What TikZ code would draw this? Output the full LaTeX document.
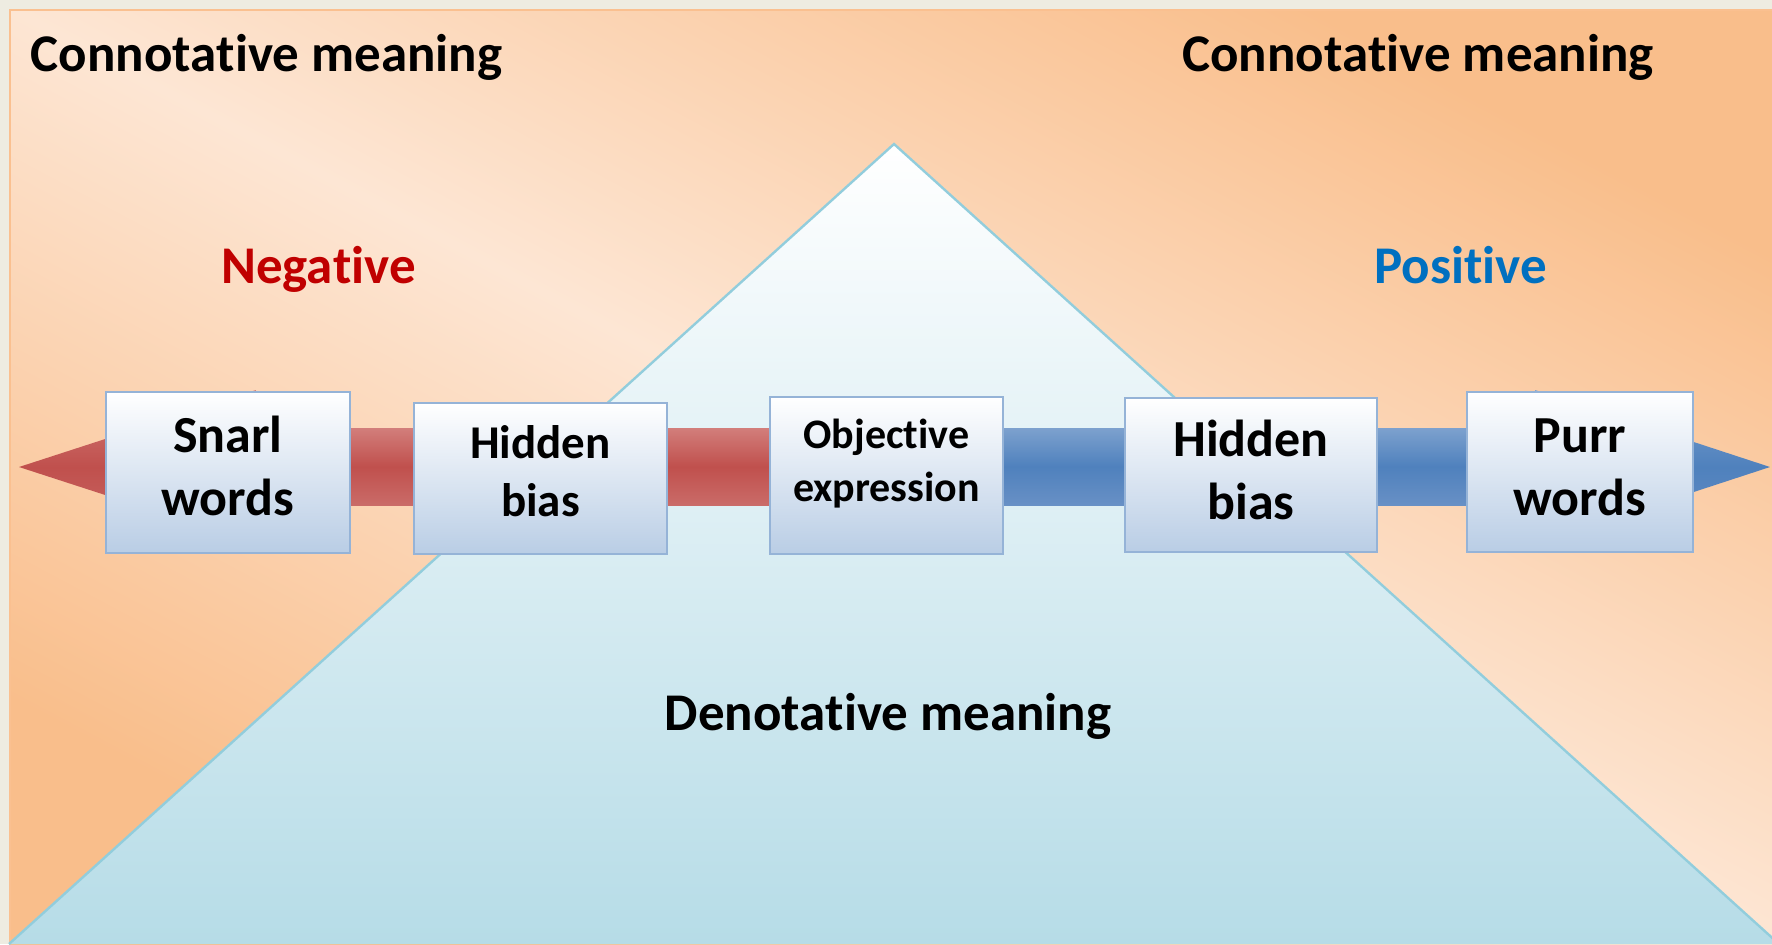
\documentclass[tikz,border=0pt]{standalone}
\usepackage{fontspec}
\setmainfont{Carlito}[RawFeature={-liga;-clig;-calt;-dlig}]
\definecolor{outerbg}{HTML}{EEECE1}
\definecolor{frameline}{HTML}{FAC090}
\definecolor{peachlight}{HTML}{FDE6D4}
\definecolor{peachdark}{HTML}{F9BE8B}
\definecolor{tribottom}{HTML}{B6DCE7}
\definecolor{triline}{HTML}{92CDDC}
\definecolor{redmain}{HTML}{C0504D}
\definecolor{redtop}{HTML}{D27E7B}
\definecolor{redbot}{HTML}{CA6B68}
\definecolor{bluemain}{HTML}{4F81BD}
\definecolor{bluetop}{HTML}{7DA1CE}
\definecolor{bluebot}{HTML}{6890C5}
\definecolor{boxbottom}{HTML}{B9CDE5}
\definecolor{boxline}{HTML}{95B3D7}
\definecolor{negred}{HTML}{C00000}
\definecolor{posblue}{HTML}{0070C0}
\newcommand{\twolines}[4]{\fontsize{#1}{#2}\selectfont\begin{tabular}[t]{@{}c@{}}#3\\#4\end{tabular}}
\begin{document}
\begin{tikzpicture}[x=0.5pt,y=-0.5pt,
  wordbox/.style={draw=boxline, line width=1.2pt, top color=white, bottom color=boxbottom, inner sep=0pt, outer sep=0pt},
  boxtext/.style={anchor=base, inner sep=0pt, font=\bfseries},
  heading/.style={anchor=base, inner sep=0pt, font=\bfseries\fontsize{26.5}{31}\selectfont},
  sidelabel/.style={anchor=base, inner sep=0pt, font=\bfseries\fontsize{26.5}{31}\selectfont},
  redshade/.style={top color=redtop, bottom color=redbot, middle color=redmain},
  blueshade/.style={top color=bluetop, bottom color=bluebot, middle color=bluemain}]
\useasboundingbox (0,0) rectangle (1772,944);
\fill[outerbg] (0,0) rectangle (1772,944);
\shade[top color=peachdark, bottom color=peachdark, middle color=peachlight, shading angle=-28] (9,9) rectangle (1772,944);
\draw[frameline, line width=1pt] (1772,10) -- (10,10) -- (10,944);
% triangle
\shade[top color=white, bottom color=tribottom] (894,144) -- (1779,944) -- (9,944) -- cycle;
\draw[triline, line width=1.2pt] (9,944) -- (894,144) -- (1779,944);
% arrows
\shade[redshade] (250,428) rectangle (887,505);
\shade[redshade] (256,390) -- (19,467) -- (256,544) -- cycle;
\shade[blueshade] (886,428) rectangle (1540,505);
\shade[blueshade] (1535,390) -- (1770,467) -- (1535,544) -- cycle;
% boxes
\node[wordbox, minimum width=122pt, minimum height=80.5pt] (snarl) at (228,472.5) {};
\node[wordbox, minimum width=126.5pt, minimum height=75.5pt] (hidl) at (540.5,478.5) {};
\node[wordbox, minimum width=116.5pt, minimum height=78.5pt] (obj) at (886.5,475.5) {};
\node[wordbox, minimum width=126pt, minimum height=77pt] (hidr) at (1251,475) {};
\node[wordbox, minimum width=113pt, minimum height=80pt] (purr) at (1580,472) {};
% box texts
\node[boxtext] (snarlT) at (228,452) {\twolines{26}{31.7}{Snarl}{words}};
\node[boxtext] (hidlT) at (540.5,458) {\twolines{23.5}{29}{Hidden}{bias}};
\node[boxtext] (objT) at (886.5,448) {\twolines{21}{26.5}{Objec\kern0pt tive}{expression}};
\node[boxtext] (hidrT) at (1251,456) {\twolines{26}{31.7}{Hidden}{bias}};
\node[boxtext] (purrT) at (1580,452) {\twolines{26}{31.7}{Purr}{words}};
% labels
\node[heading] (connL) at (266.5,71) {Connota\kern0pt tive meaning};
\node[heading] (connR) at (1418,71) {Connota\kern0pt tive meaning};
\node[heading] (denot) at (888,730) {Denota\kern0pt tive meaning};
\node[sidelabel, text=negred] (neg) at (318.5,283) {Nega\kern0pt tive};
\node[sidelabel, text=posblue] (pos) at (1460.5,283) {Posi\kern0pt tive};
\end{tikzpicture}
\end{document}
